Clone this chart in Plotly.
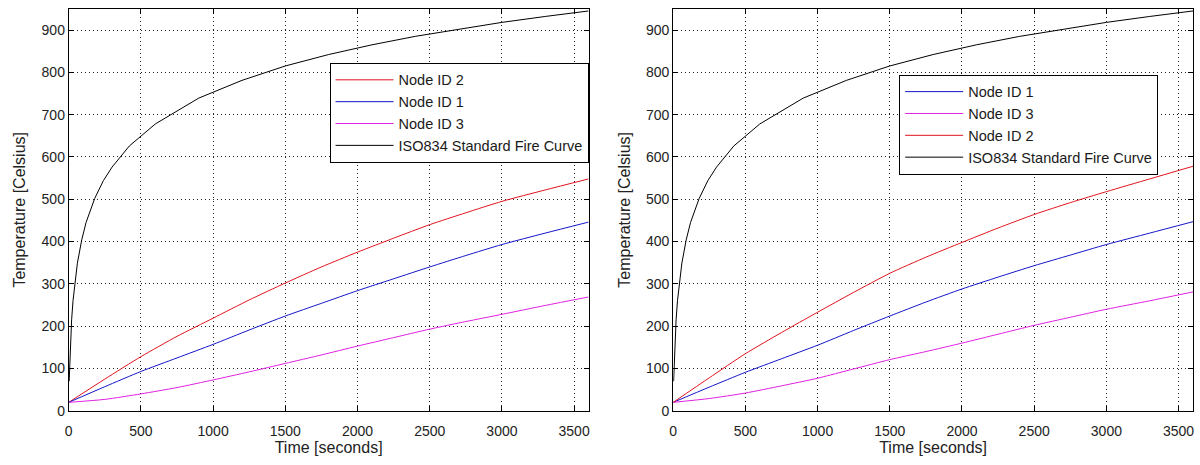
import plotly.graph_objects as go

# ---------------- data ----------------
time_s = [0, 250, 500, 750, 1000, 1250, 1500, 1750, 2000, 2250, 2500, 2750, 3000, 3300, 3600]

left_node2 = [20, 75, 128, 176, 219, 262, 302, 340, 375, 408, 440, 468, 495, 522, 548]
left_node1 = [20, 57, 93, 125, 157, 191, 224, 254, 284, 312, 340, 367, 393, 420, 446]
left_node3 = [20, 27, 40, 55, 73, 92, 112, 132, 153, 173, 193, 211, 228, 249, 269]

right_node1 = [20, 56, 91, 123, 155, 190, 224, 257, 288, 316, 343, 368, 393, 420, 447]
right_node3 = [20, 29, 42, 59, 77, 99, 121, 140, 160, 181, 202, 221, 240, 260, 281]
right_node2 = [20, 78, 135, 185, 233, 280, 325, 363, 398, 432, 464, 492, 518, 548, 578]

iso_time = [3, 10, 20, 30, 45, 60, 90, 120, 180, 240, 300, 420, 600, 900, 1200,
            1500, 1800, 2100, 2400, 2700, 3000, 3300, 3600]
iso_temp = [70, 147, 215, 261, 312, 349, 404, 445, 502, 544, 576, 626, 678, 739, 781,
            815, 842, 865, 885, 902, 918, 932, 945]

x_ticks = [0, 500, 1000, 1500, 2000, 2500, 3000, 3500]
y_ticks = [0, 100, 200, 300, 400, 500, 600, 700, 800, 900]

RED = "#e0141e"
BLUE = "#1414c8"
MAG = "#e020e0"
BLACK = "#000000"
FONT = "Liberation Sans, Arial, sans-serif"

fig = go.Figure()

def add(x, y, name, color, xa, ya, legend, shape="spline"):
    fig.add_trace(go.Scatter(
        x=x, y=y, name=name, mode="lines",
        line=dict(color=color, width=1, shape=shape, smoothing=0.6),
        xaxis=xa, yaxis=ya, legend=legend))

# left panel (legend order: Node 2, Node 1, Node 3, ISO)
add(time_s, left_node2, "Node ID 2", RED, "x", "y", "legend")
add(time_s, left_node1, "Node ID 1", BLUE, "x", "y", "legend")
add(time_s, left_node3, "Node ID 3", MAG, "x", "y", "legend")
add(iso_time, iso_temp, "ISO834 Standard Fire Curve", BLACK, "x", "y", "legend", "linear")

# right panel (legend order: Node 1, Node 3, Node 2, ISO)
add(time_s, right_node1, "Node ID 1", BLUE, "x2", "y2", "legend2")
add(time_s, right_node3, "Node ID 3", MAG, "x2", "y2", "legend2")
add(time_s, right_node2, "Node ID 2", RED, "x2", "y2", "legend2")
add(iso_time, iso_temp, "ISO834 Standard Fire Curve", BLACK, "x2", "y2", "legend2", "linear")

# invisible carriers so that the label axes get drawn
for xa, ya in (("x3", "y"), ("x4", "y2")):
    fig.add_trace(go.Scatter(
        x=time_s, y=left_node1, mode="lines", line=dict(width=0, color="rgba(0,0,0,0)"),
        showlegend=False, hoverinfo="skip", xaxis=xa, yaxis=ya))

W, H = 1200, 465
ydom = [(H - 418) / H, (H - 9) / H]
xdom1 = [65 / W, 587 / W]
xdom2 = [672 / W, 1194 / W]

tickfont = dict(family=FONT, size=14, color="#222")
titlefont = dict(family=FONT, size=16, color="#222")

# axes that draw the box, inside ticks and dotted grid (no labels)
frame_x = dict(
    showline=True, linecolor="black", linewidth=1, mirror="ticks",
    ticks="inside", ticklen=5, tickcolor="black",
    showgrid=True, gridcolor="#222222", gridwidth=1, griddash="1px,3px",
    zeroline=False, range=[0, 3600], tickvals=x_ticks, showticklabels=False,
)
frame_y = dict(
    showline=True, linecolor="black", linewidth=1, mirror="ticks",
    ticks="inside", ticklen=5, tickcolor="black",
    showgrid=True, gridcolor="#222222", gridwidth=1, griddash="1px,3px",
    zeroline=False, range=[0, 950], tickvals=y_ticks,
    tickfont=tickfont, title_font=titlefont,
    title_text="Temperature [Celsius]", title_standoff=11,
)
# overlay x axes that carry the tick labels (pushed down by invisible outside ticks)
label_x = dict(
    showline=False, showgrid=False, zeroline=False,
    ticks="outside", ticklen=7, tickcolor="rgba(0,0,0,0)",
    range=[0, 3600], tickvals=x_ticks, tickfont=tickfont, title_font=titlefont,
    title_text="Time [seconds]", title_standoff=1,
)

legend_common = dict(
    bgcolor="white", bordercolor="black", borderwidth=1,
    font=dict(family=FONT, size=14.5, color="#1a1a1a"),
    xanchor="right", yanchor="top", tracegroupgap=0, itemwidth=58,
)

fig.update_layout(
    width=W, height=H,
    margin=dict(l=0, r=0, t=0, b=0),
    paper_bgcolor="white", plot_bgcolor="white",
    xaxis=dict(frame_x, domain=xdom1, anchor="y"),
    yaxis=dict(frame_y, domain=ydom, anchor="x"),
    xaxis2=dict(frame_x, domain=xdom2, anchor="y2"),
    yaxis2=dict(frame_y, domain=ydom, anchor="x2"),
    xaxis3=dict(label_x, domain=xdom1, anchor="y", overlaying="x"),
    xaxis4=dict(label_x, domain=xdom2, anchor="y2", overlaying="x2"),
    legend=dict(legend_common, x=587 / W, y=(H - 64) / H),
    legend2=dict(legend_common, x=1159 / W, y=(H - 76) / H),
    showlegend=True,
)

fig.write_html("out.html")
